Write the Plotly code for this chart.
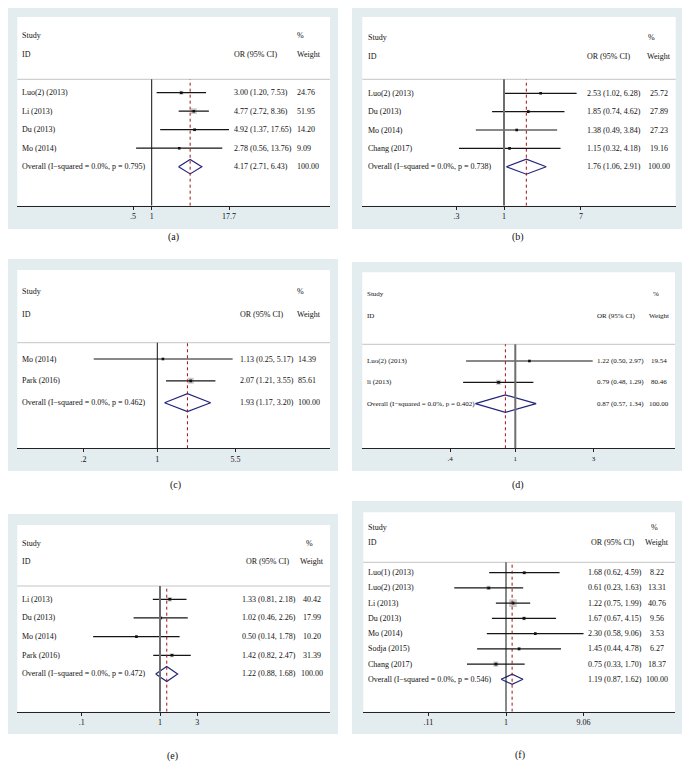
import math
import plotly.graph_objects as go

# The page body has an 8px default margin, so the figure is sized to fit inside it
OFF = 8
W, H = 690 - 2 * OFF, 771 - 2 * OFF

# ---------------- data ----------------
A_study = ["Luo(2) (2013)", "Li (2013)", "Du (2013)", "Mo (2014)"]
A_or = [3.00, 4.77, 4.92, 2.78]
A_lo = [1.20, 2.72, 1.37, 0.56]
A_hi = [7.53, 8.36, 17.65, 13.76]
A_w = [24.76, 51.95, 14.20, 9.09]
A_overall = [4.17, 2.71, 6.43]
A_p = "0.795"
A_ticks = [0.5, 1, 17.7]
A_ticktext = [".5", "1", "17.7"]

B_study = ["Luo(2) (2013)", "Du (2013)", "Mo (2014)", "Chang (2017)"]
B_or = [2.53, 1.85, 1.38, 1.15]
B_lo = [1.02, 0.74, 0.49, 0.32]
B_hi = [6.28, 4.62, 3.84, 4.18]
B_w = [25.72, 27.89, 27.23, 19.16]
B_overall = [1.76, 1.06, 2.91]
B_p = "0.738"
B_ticks = [0.3, 1, 7]
B_ticktext = [".3", "1", "7"]

C_study = ["Mo (2014)", "Park (2016)"]
C_or = [1.13, 2.07]
C_lo = [0.25, 1.21]
C_hi = [5.17, 3.55]
C_w = [14.39, 85.61]
C_overall = [1.93, 1.17, 3.20]
C_p = "0.462"
C_ticks = [0.2, 1, 5.5]
C_ticktext = [".2", "1", "5.5"]

D_study = ["Luo(2) (2013)", "li (2013)"]
D_or = [1.22, 0.79]
D_lo = [0.50, 0.48]
D_hi = [2.97, 1.29]
D_w = [19.54, 80.46]
D_overall = [0.87, 0.57, 1.34]
D_p = "0.402"
D_ticks = [0.4, 1, 3]
D_ticktext = [".4", "1", "3"]

E_study = ["Li (2013)", "Du (2013)", "Mo (2014)", "Park (2016)"]
E_or = [1.33, 1.02, 0.50, 1.42]
E_lo = [0.81, 0.46, 0.14, 0.82]
E_hi = [2.18, 2.26, 1.78, 2.47]
E_w = [40.42, 17.99, 10.20, 31.39]
E_overall = [1.22, 0.88, 1.68]
E_p = "0.472"
E_ticks = [0.1, 1, 3]
E_ticktext = [".1", "1", "3"]

F_study = ["Luo(1) (2013)", "Luo(2) (2013)", "Li (2013)", "Du (2013)",
           "Mo (2014)", "Sodja (2015)", "Chang (2017)"]
F_or = [1.68, 0.61, 1.22, 1.67, 2.30, 1.45, 0.75]
F_lo = [0.62, 0.23, 0.75, 0.67, 0.58, 0.44, 0.33]
F_hi = [4.59, 1.63, 1.99, 4.15, 9.06, 4.78, 1.70]
F_w = [8.22, 13.31, 40.76, 9.56, 3.53, 6.27, 18.37]
F_overall = [1.19, 0.87, 1.62]
F_p = "0.546"
F_ticks = [0.11, 1, 9.06]
F_ticktext = [".11", "1", "9.06"]

TOTAL_WEIGHT = 100.00

# ---------------- layout (pixel geometry & styles) ----------------
FRAME = "#e3ecef"
SERIF = "Liberation Serif"
TXT = "#111111"

STYLES = {
    "a": dict(frame=(7, 7, 338, 229), inner=(17.3, 17, 330, 205.7), one=151.7, ppd=62,
              row0=92.7, sp=18.5, study_y=35, id_y=55, hline=79.3,
              c_study=20.7, c_orh=232.7, c_or=232.7, pct=(296, "left"), wh=(296, "left"),
              wv=(296, "left"), fs=8, lab=(173, 237), l1=("#111111", 1), box_k=0.8, dia=0.39),
    "b": dict(frame=(352, 7, 683, 229), inner=(362.3, 17, 675.7, 205.7), one=504, ppd=91,
              row0=93.3, sp=18.35, study_y=37.3, id_y=56, hline=79.3,
              c_study=366.7, c_orh=585.7, c_or=585.7, pct=(646.7, "left"), wh=(658.7, "center"),
              wv=(658.7, "center"), fs=8, lab=(518, 237), l1=("#6e6e6e", 2), box_k=0.5, dia=0.41),
    "c": dict(frame=(7, 259, 338, 471), inner=(17.3, 270, 330, 448.3), one=157.3, ppd=105.6,
              row0=359, sp=21.85, study_y=291.7, id_y=314.3, hline=342.7,
              c_study=20.7, c_orh=239.3, c_or=239.3, pct=(296, "left"), wh=(296, "left"),
              wv=(296.7, "left"), fs=8, lab=(175, 485), l1=("#111111", 1), box_k=0.65, dia=0.41),
    "d": dict(frame=(352, 262, 683, 471), inner=(362.3, 272.3, 675, 448.3), one=515.3, ppd=163.7,
              row0=361, sp=21.35, study_y=294.3, id_y=316, hline=344.3,
              c_study=365.7, c_orh=595.7, c_or=595.7, pct=(651.7, "left"), wh=(659.3, "center"),
              wv=(659.3, "center"), fs=7, lab=(518, 485), l1=("#6e6e6e", 2), box_k=0.56, dia=0.41),
    "e": dict(frame=(7, 514, 338, 734), inner=(17.3, 525, 330, 711.7), one=160, ppd=78.3,
              row0=599.3, sp=18.67, study_y=543.3, id_y=561.7, hline=586,
              c_study=20.7, c_orh=245, c_or=240.7, pct=(305, "left"), wh=(311.7, "center"),
              wv=(311.7, "center"), fs=8, lab=(172, 756), l1=("#6e6e6e", 2), box_k=0.73, dia=0.40),
    "f": dict(frame=(352, 501, 683, 734), inner=(363.3, 512.3, 675, 711.7), one=506, ppd=81,
              row0=572.7, sp=15.23, study_y=527.3, id_y=542.3, hline=562.3,
              c_study=366.7, c_orh=590, c_or=586.7, pct=(650.3, "left"), wh=(656.5, "center"),
              wv=(657, "center"), fs=8, lab=(520, 755), l1=("#111111", 1), box_k=1.2, dia=0.33),
}

PANELS = [
    ("a", A_study, A_or, A_lo, A_hi, A_w, A_overall, A_p, A_ticks, A_ticktext),
    ("b", B_study, B_or, B_lo, B_hi, B_w, B_overall, B_p, B_ticks, B_ticktext),
    ("c", C_study, C_or, C_lo, C_hi, C_w, C_overall, C_p, C_ticks, C_ticktext),
    ("d", D_study, D_or, D_lo, D_hi, D_w, D_overall, D_p, D_ticks, D_ticktext),
    ("e", E_study, E_or, E_lo, E_hi, E_w, E_overall, E_p, E_ticks, E_ticktext),
    ("f", F_study, F_or, F_lo, F_hi, F_w, F_overall, F_p, F_ticks, F_ticktext),
]


def px_x(px):
    return (px - OFF) / W


def px_y(py):
    return 1 - (py - OFF) / H


fig = go.Figure()
shapes = []
annotations = []
layout_axes = {}

for n, (key, study, orv, lo, hi, w, overall, pval, ticks, ticktext) in enumerate(PANELS, start=1):
    s = STYLES[key]
    xs = "" if n == 1 else str(n)
    xref, yref = "x" + xs, "y" + xs
    fx0, fy0, fx1, fy1 = s["frame"]
    ix0, itop, ix1, iax = s["inner"]

    def row(py, s=s):
        return (py - s["row0"]) / s["sp"]

    # backgrounds
    shapes.append(dict(type="rect", xref="paper", yref="paper", x0=px_x(fx0), x1=px_x(fx1),
                       y0=px_y(fy1), y1=px_y(fy0), fillcolor=FRAME, line=dict(width=0), layer="below"))
    shapes.append(dict(type="rect", xref="paper", yref="paper", x0=px_x(ix0), x1=px_x(ix1),
                       y0=px_y(iax), y1=px_y(itop), fillcolor="white", line=dict(width=0), layer="below"))
    # header separator
    shapes.append(dict(type="line", xref="paper", yref="paper", x0=px_x(ix0), x1=px_x(ix1),
                       y0=px_y(s["hline"]), y1=px_y(s["hline"]), line=dict(color="#c4c4c4", width=1)))

    # axes
    layout_axes["xaxis" + xs] = dict(
        type="log", domain=[px_x(ix0), px_x(ix1)],
        range=[(ix0 - s["one"]) / s["ppd"], (ix1 - s["one"]) / s["ppd"]],
        anchor=yref, showline=True, linecolor="#222222", linewidth=1,
        ticks="outside", ticklen=3, tickwidth=1, tickcolor="#222222",
        tickvals=ticks, ticktext=ticktext, showgrid=False, zeroline=False,
        tickfont=dict(family=SERIF, size=s["fs"], color=TXT), fixedrange=True)
    layout_axes["yaxis" + xs] = dict(
        domain=[px_y(iax), px_y(itop)], range=[row(iax), row(itop)],
        anchor=xref, visible=False, showgrid=False, zeroline=False, fixedrange=True)

    k = len(study)
    rows = list(range(k))
    y_bot, y_top = row(iax), row(s["hline"])

    # reference line at 1 and overall dashed line
    shapes.append(dict(type="line", xref=xref, yref=yref, x0=1, x1=1, y0=y_bot, y1=y_top,
                       line=dict(color=s["l1"][0], width=s["l1"][1])))
    shapes.append(dict(type="line", xref=xref, yref=yref, x0=overall[0], x1=overall[0],
                       y0=y_bot, y1=y_top, line=dict(color="#a01010", width=1, dash="dot")))

    # boxes
    fig.add_trace(go.Scatter(
        x=orv, y=rows, mode="markers", xaxis=xref, yaxis=yref, hoverinfo="skip",
        marker=dict(symbol="square", size=[s["box_k"] * math.sqrt(v) for v in w],
                    color="#b5b5b5", line=dict(width=0)), showlegend=False))
    # CI lines
    cx, cy = [], []
    for r, a, b in zip(rows, lo, hi):
        cx += [a, b, None]
        cy += [r, r, None]
    fig.add_trace(go.Scatter(x=cx, y=cy, mode="lines", xaxis=xref, yaxis=yref, hoverinfo="skip",
                             line=dict(color="#151515", width=1.2), showlegend=False))
    # point estimates
    fig.add_trace(go.Scatter(
        x=orv, y=rows, mode="markers", xaxis=xref, yaxis=yref, hoverinfo="skip",
        marker=dict(symbol="square", size=2.6, color="#111111", line=dict(width=0)),
        showlegend=False))
    # diamond
    d = s["dia"]
    fig.add_trace(go.Scatter(
        x=[overall[1], overall[0], overall[2], overall[0], overall[1]],
        y=[k, k - d, k, k + d, k], mode="lines", xaxis=xref, yaxis=yref, hoverinfo="skip",
        line=dict(color="#22267a", width=1.2), showlegend=False))

    font = dict(family=SERIF, size=s["fs"], color=TXT)

    def ann(text, x, y, yr="paper", anchor="left"):
        annotations.append(dict(text=text, x=x, y=y, xref="paper", yref=yr, xanchor=anchor,
                                yanchor="middle", showarrow=False, font=font, borderpad=0))

    # headers
    ann("Study", px_x(s["c_study"]), px_y(s["study_y"]))
    ann("ID", px_x(s["c_study"]), px_y(s["id_y"]))
    ann("OR (95% CI)", px_x(s["c_orh"]), px_y(s["id_y"]))
    ann("%", px_x(s["pct"][0]), px_y(s["study_y"]), anchor=s["pct"][1])
    ann("Weight", px_x(s["wh"][0]), px_y(s["id_y"]), anchor=s["wh"][1])

    # rows
    for r, name, o, a, b, wt in zip(rows, study, orv, lo, hi, w):
        ann(name, px_x(s["c_study"]), r, yr=yref)
        ann(f"{o:.2f} ({a:.2f}, {b:.2f})", px_x(s["c_or"]), r, yr=yref)
        ann(f"{wt:.2f}", px_x(s["wv"][0]), r, yr=yref, anchor=s["wv"][1])
    ann(f"Overall (I\u2212squared = 0.0%, p = {pval})", px_x(s["c_study"]), k, yr=yref)
    ann(f"{overall[0]:.2f} ({overall[1]:.2f}, {overall[2]:.2f})", px_x(s["c_or"]), k, yr=yref)
    ann(f"{TOTAL_WEIGHT:.2f}", px_x(s["wv"][0]), k, yr=yref, anchor=s["wv"][1])

    # panel label
    annotations.append(dict(text=f"({key})", x=px_x(s["lab"][0]), y=px_y(s["lab"][1]),
                            xref="paper", yref="paper", xanchor="center", yanchor="middle",
                            showarrow=False, font=dict(family=SERIF, size=10, color=TXT)))

fig.update_layout(
    width=W, height=H, margin=dict(l=0, r=0, t=0, b=0),
    paper_bgcolor="white", plot_bgcolor="rgba(0,0,0,0)",
    shapes=shapes, annotations=annotations, showlegend=False,
    **layout_axes)

fig.write_html("out.html", config={"displayModeBar": False})
